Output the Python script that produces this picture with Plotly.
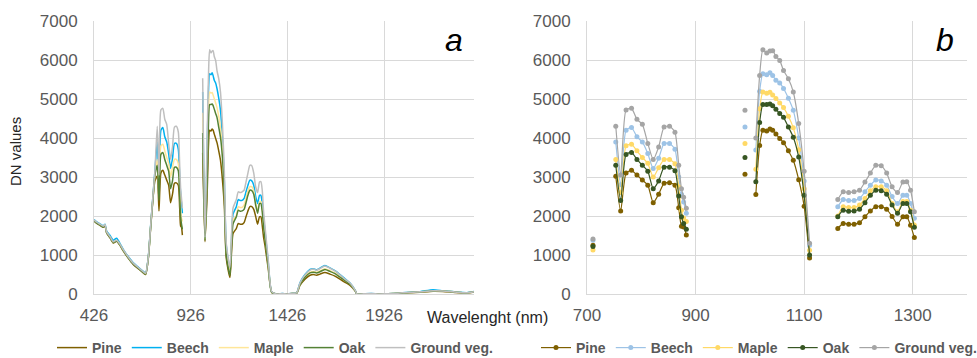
import plotly.graph_objects as go

# ---------------- Panel a : full spectrum (lines) ----------------
a_wl = [426, 440, 457, 474, 483, 491, 509, 526, 543, 560, 578, 603, 629, 655, 681, 693, 707, 719, 733, 741,
        753, 762, 772, 782, 792, 802, 812, 822, 832, 842, 852, 862, 869, 874, 878, 883,
        None,
        988, 1000, 1011, 1018, 1024, 1031, 1037, 1042, 1048, 1055, 1062, 1071, 1080, 1090, 1100, 1110, 1129, 1145,
        1162, 1172, 1182, 1192, 1202, 1212, 1222, 1232, 1242, 1252, 1262, 1272, 1282, 1289, 1296, 1303,
        1310, 1327, 1345, 1370, 1400, 1426, 1450, 1474, 1491, 1517, 1543, 1560, 1577, 1594, 1620, 1646,
        1672, 1698, 1724, 1750, 1776, 1786, 1820, 1860, 1900, 1940, 1972, 2020, 2060, 2112, 2179, 2230,
        2292, 2354, 2391]

a_pine = [1870, 1810, 1760, 1710, 1750, 1570, 1440, 1310, 1350, 1250, 1100, 920, 760, 650, 540, 500, 920, 1700, 2550, 2900,
          3020, 2130, 3100, 3170, 3050, 2920, 2790, 2340, 2560, 2840, 2850, 2790, 2210, 1740, 1720, 1510,
          None,
          3620, 1340, 2550, 3810, 4200, 4180, 4230, 4200, 4100, 3990, 3880, 3670, 3430, 2930, 2250, 920, 420, 1550,
          1680, 1810, 1790, 1790, 1830, 1980, 2130, 2240, 2240, 2170, 1990, 1790, 1980, 1980, 1760, 1450,
          1250, 650, 40, 0, 5, 0, 10, 20, 220, 380, 480, 500, 480, 510, 550, 510,
          460, 380, 300, 220, 80, 0, 5, 5, 0, 5, 5, 20, 30, 45, 70, 65,
          40, 25, 50]

a_beech = [1910, 1850, 1800, 1750, 1790, 1620, 1500, 1380, 1430, 1300, 1140, 960, 800, 690, 580, 540, 960, 1760, 2650, 3150,
           3900, 2800, 4200, 4270, 4030, 3900, 3600, 3220, 3480, 3860, 3860, 3710, 3000, 2560, 2360, 2070,
           None,
           5180, 1420, 3690, 5200, 5650, 5620, 5670, 5600, 5480, 5410, 5270, 5020, 4710, 4000, 2900, 1250, 620, 2050,
           2240, 2420, 2400, 2400, 2450, 2620, 2790, 2920, 2900, 2790, 2500, 2320, 2530, 2530, 2320, 1940,
           1620, 820, 50, 0, 10, 0, 15, 30, 290, 500, 630, 650, 620, 660, 730, 670,
           600, 500, 390, 280, 100, 0, 5, 10, 0, 5, 10, 30, 45, 60, 110, 85,
           55, 35, 65]

a_maple = [1890, 1830, 1780, 1730, 1770, 1590, 1460, 1330, 1370, 1270, 1120, 940, 780, 670, 560, 520, 940, 1730, 2600, 3050,
           3450, 2600, 3800, 3840, 3670, 3500, 3350, 3000, 3240, 3450, 3450, 3340, 2750, 2150, 1950, 1860,
           None,
           4650, 1400, 3200, 4750, 5180, 5150, 5170, 5100, 5010, 4900, 4780, 4560, 4260, 3700, 2700, 1120, 560, 1900,
           2000, 2240, 2220, 2220, 2280, 2450, 2650, 2750, 2750, 2650, 2320, 2110, 2370, 2370, 2150, 1770,
           1480, 760, 45, 0, 5, 0, 10, 25, 250, 440, 560, 580, 560, 590, 650, 600,
           540, 450, 350, 260, 90, 0, 5, 5, 0, 5, 10, 25, 40, 55, 80, 80,
           50, 30, 60]

a_oak = [1880, 1820, 1770, 1720, 1760, 1580, 1450, 1320, 1360, 1260, 1110, 930, 770, 660, 550, 510, 930, 1720, 2600, 3050,
         3300, 2400, 3580, 3630, 3450, 3300, 3150, 2700, 2900, 3250, 3250, 3160, 2510, 1980, 1810, 1660,
         None,
         4130, 1370, 2880, 4400, 4860, 4860, 4870, 4830, 4740, 4630, 4530, 4280, 4020, 3510, 2530, 1000, 480, 1800,
         1980, 2150, 2120, 2130, 2170, 2340, 2530, 2660, 2650, 2560, 2280, 2070, 2320, 2320, 2110, 1710,
         1420, 730, 45, 0, 5, 0, 10, 25, 240, 430, 540, 560, 540, 570, 630, 580,
         520, 430, 340, 250, 90, 0, 5, 5, 0, 5, 10, 25, 40, 55, 80, 80,
         50, 30, 60]

a_ground = [1900, 1840, 1790, 1740, 1780, 1600, 1470, 1340, 1380, 1280, 1130, 950, 790, 680, 570, 530, 950, 1750, 2650, 3150,
            4300, 3050, 4720, 4760, 4480, 4350, 3860, 3450, 3770, 4280, 4300, 4150, 3300, 2700, 2480, 2200,
            None,
            5530, 1450, 4000, 5600, 6260, 6180, 6230, 6240, 6090, 5990, 5730, 5520, 5180, 4370, 3150, 1300, 680, 2200,
            2420, 2620, 2600, 2620, 2660, 2870, 3100, 3300, 3290, 3100, 2750, 2600, 2870, 2880, 2660, 2110,
            1750, 870, 60, 0, 10, 0, 15, 30, 280, 490, 610, 640, 610, 650, 720, 660,
            590, 490, 380, 280, 100, 0, 5, 10, 0, 5, 10, 30, 40, 55, 85, 80,
            50, 30, 60]

# ---------------- Panel b : 700-1400 nm (lines + markers) ----------------
b_wl = [711, None,
        753, 762, 772, 782, 792, 802, 812, 822, 832, 842, 852, 862, 869, 874, 878, 883, None,
        991, None,
        1011, 1018, 1024, 1031, 1037, 1042, 1048, 1055, 1062, 1071, 1080, 1090, 1100, 1110, None,
        1162, 1172, 1182, 1192, 1202, 1212, 1222, 1232, 1242, 1252, 1262, 1272, 1282, 1289, 1296, 1303]

b_pine = [1250, None,
          3020, 2130, 3100, 3170, 3050, 2920, 2790, 2340, 2560, 2840, 2850, 2790, 2210, 1740, 1720, 1510, None,
          3070, None,
          2550, 3810, 4200, 4180, 4230, 4200, 4100, 3990, 3880, 3670, 3430, 2930, 2250, 920, None,
          1680, 1810, 1790, 1790, 1830, 1980, 2130, 2240, 2240, 2170, 1990, 1790, 1980, 1980, 1760, 1450]

b_beech = [1380, None,
           3900, 2800, 4200, 4270, 4030, 3900, 3600, 3220, 3480, 3860, 3860, 3710, 3000, 2560, 2360, 2070, None,
           4280, None,
           3690, 5200, 5650, 5620, 5670, 5600, 5480, 5410, 5270, 5020, 4710, 4000, 2900, 1250, None,
           2240, 2420, 2400, 2400, 2450, 2620, 2790, 2920, 2900, 2790, 2500, 2320, 2530, 2530, 2320, 1940]

b_maple = [1130, None,
           3450, 2600, 3800, 3840, 3670, 3500, 3350, 3000, 3240, 3450, 3450, 3340, 2750, 2150, 1950, 1860, None,
           3860, None,
           3200, 4750, 5180, 5150, 5170, 5100, 5010, 4900, 4780, 4560, 4260, 3700, 2700, 1120, None,
           2000, 2240, 2220, 2220, 2280, 2450, 2650, 2750, 2750, 2650, 2320, 2110, 2370, 2370, 2150, 1770]

b_oak = [1220, None,
         3300, 2400, 3580, 3630, 3450, 3300, 3150, 2700, 2900, 3250, 3250, 3160, 2510, 1980, 1810, 1660, None,
         3500, None,
         2880, 4400, 4860, 4860, 4870, 4830, 4740, 4630, 4530, 4280, 4020, 3510, 2530, 1000, None,
         1980, 2150, 2120, 2130, 2170, 2340, 2530, 2660, 2650, 2560, 2280, 2070, 2320, 2320, 2110, 1710]

b_ground = [1410, None,
            4300, 3050, 4720, 4760, 4480, 4350, 3860, 3450, 3770, 4280, 4300, 4150, 3300, 2700, 2480, 2200, None,
            4710, None,
            4000, 5600, 6260, 6180, 6230, 6240, 6090, 5990, 5730, 5520, 5180, 4370, 3150, 1300, None,
            2420, 2620, 2600, 2620, 2660, 2870, 3100, 3300, 3290, 3100, 2750, 2600, 2870, 2880, 2660, 2110]

names = ["Pine", "Beech", "Maple", "Oak", "Ground veg."]
a_series = [a_pine, a_beech, a_maple, a_oak, a_ground]
b_series = [b_pine, b_beech, b_maple, b_oak, b_ground]
a_colors = ["#7F6000", "#00B0F0", "#FFE699", "#548235", "#BFBFBF"]
b_colors = ["#7F6000", "#9DC3E6", "#FFD966", "#375623", "#A5A5A5"]

x_ticks_a = [426, 926, 1426, 1926]
x_ticks_b = [700, 900, 1100, 1300]
y_ticks = [0, 1000, 2000, 3000, 4000, 5000, 6000, 7000]

W, H = 977, 358
FONT = "Arial, Liberation Sans, sans-serif"

fig = go.Figure()
for n, ys, c in zip(names, a_series, a_colors):
    fig.add_trace(go.Scatter(x=a_wl, y=ys, name=n, mode="lines",
                             line=dict(color=c, width=1.5, shape="spline", smoothing=0.6),
                             connectgaps=False, xaxis="x", yaxis="y", legend="legend"))
for n, ys, c in zip(names, b_series, b_colors):
    fig.add_trace(go.Scatter(x=b_wl, y=ys, name=n, mode="lines+markers",
                             line=dict(color=c, width=1.2, shape="spline", smoothing=0.6),
                             marker=dict(color=c, size=5),
                             connectgaps=False, xaxis="x2", yaxis="y2", legend="legend2"))

grid = "#D9D9D9"
tickfont = dict(family=FONT, size=17, color="#595959")
ydom = [1 - 294 / H, 1 - 21 / H]

common_x = dict(showgrid=True, gridcolor=grid, gridwidth=1, zeroline=False, showline=True,
                linecolor=grid, ticks="", tickfont=tickfont, ticklabelstandoff=6, automargin=False)
common_y = dict(showgrid=True, gridcolor=grid, gridwidth=1, zeroline=False, showline=True,
                linecolor=grid, ticks="", tickfont=tickfont, range=[0, 7000],
                tickvals=y_ticks, ticklabelstandoff=12, automargin=False)

legend_common = dict(orientation="h", yanchor="middle", xanchor="left",
                     font=dict(family=FONT, size=14, color="#595959", weight="bold"),
                     bgcolor="rgba(0,0,0,0)", itemwidth=30, tracegroupgap=0)

fig.update_layout(
    width=W, height=H,
    margin=dict(l=0, r=0, t=0, b=0, autoexpand=False),
    paper_bgcolor="white", plot_bgcolor="white",
    xaxis=dict(domain=[94 / W, 474 / W], range=[426, 2391], tickvals=x_ticks_a, anchor="y", **common_x),
    yaxis=dict(domain=ydom, anchor="x", **common_y),
    xaxis2=dict(domain=[587 / W, 967 / W], range=[700, 1400], tickvals=x_ticks_b, anchor="y2", **common_x),
    yaxis2=dict(domain=ydom, anchor="x2", **common_y),
    legend=dict(x=52 / W, y=1 - 348 / H, **legend_common),
    legend2=dict(x=536 / W, y=1 - 348 / H, **legend_common),
    showlegend=True,
    annotations=[
        dict(text="<i>a</i>", x=454 / W, y=1 - 40 / H, xref="paper", yref="paper", showarrow=False,
             font=dict(family=FONT, size=32, color="black"), xanchor="center", yanchor="middle"),
        dict(text="<i>b</i>", x=945 / W, y=1 - 40 / H, xref="paper", yref="paper", showarrow=False,
             font=dict(family=FONT, size=32, color="black"), xanchor="center", yanchor="middle"),
        dict(text="DN values", x=15 / W, y=1 - 152 / H, xref="paper", yref="paper", showarrow=False,
             textangle=-90, font=dict(family=FONT, size=15, color="#262626"),
             xanchor="center", yanchor="middle"),
        dict(text="Wavelenght (nm)", x=425 / W, y=1 - 317 / H, xref="paper", yref="paper", showarrow=False,
             font=dict(family=FONT, size=16, color="#262626"), xanchor="left", yanchor="middle"),
    ],
)

fig.write_html("out.html", config={"displayModeBar": False},
               post_script="document.body.style.margin='0';document.body.style.overflow='hidden';")
